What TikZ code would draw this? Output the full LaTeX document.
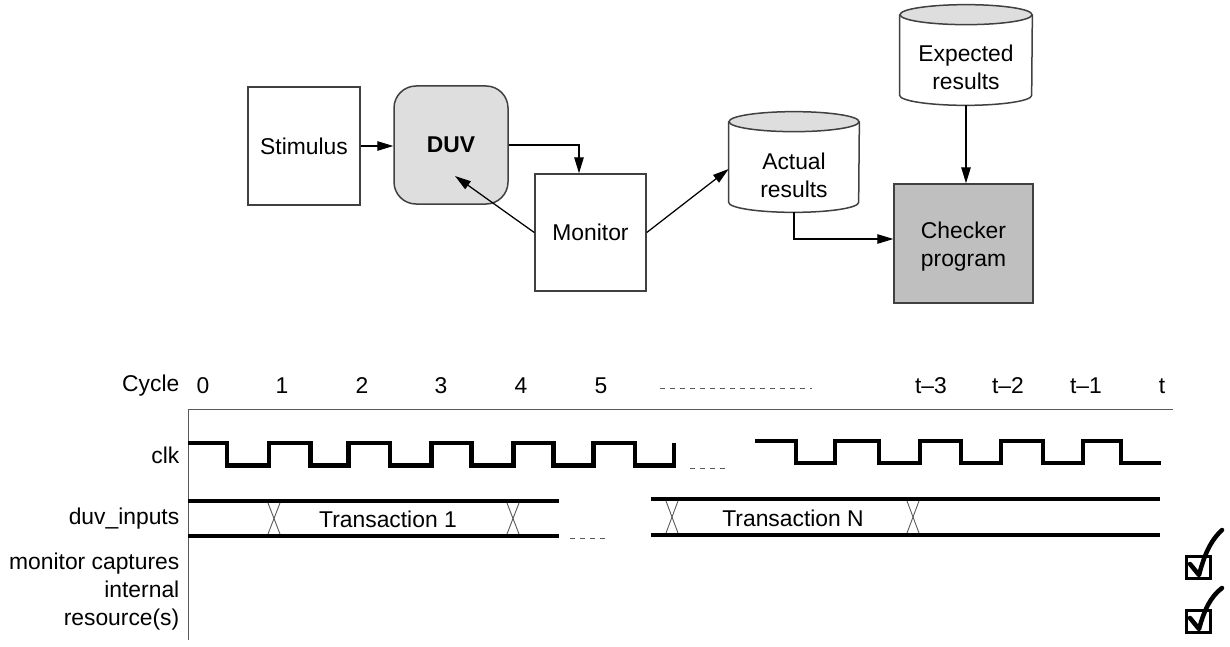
\documentclass[tikz,border=0pt]{standalone}
\usepackage{fontspec}
\setmainfont{Liberation Sans}
\usetikzlibrary{arrows.meta, calc}

\begin{document}
\begin{tikzpicture}[
    font=\fontsize{13pt}{15.9pt}\selectfont,
    box/.style={draw=boxgray, line width=0.3mm, inner sep=0pt, align=center},
    cyl/.style={draw=boxgray, line width=0.3mm},
    arrow/.style={line width=0.25mm, -{Triangle[length=0.32cm, width=0.19cm]}},
    wave/.style={line width=0.09cm},
    thinline/.style={line width=0.2mm, draw=axisgray},
    dots/.style={line width=0.2mm, draw=axisgray, dash pattern=on 0.1cm off 0.1cm},
    cross/.style={line width=0.18mm, draw=axisgray},
    tick/.style={line width=0.09cm, line cap=round, line join=round}
]
    \definecolor{boxgray}{rgb}{0.25,0.25,0.25}
    \definecolor{duvfill}{rgb}{0.87,0.87,0.87}
    \definecolor{checkfill}{rgb}{0.75,0.75,0.75}
    \definecolor{axisgray}{rgb}{0.35,0.35,0.35}
    \useasboundingbox (0,0) rectangle (24.60,12.92);
    % Block diagram
    \node[box, minimum width=2.24cm, minimum height=2.36cm] (stim) at (6.08, 10.00) {Stimulus};
    \node[box, rounded corners=0.44cm, fill=duvfill, minimum width=2.28cm, minimum height=2.36cm] (duv) at (9.02, 10.02) {\bfseries DUV};
    \node[box, minimum width=2.22cm, minimum height=2.34cm] (mon) at (11.81, 8.27) {Monitor};
    \node[box, fill=checkfill, minimum width=2.78cm, minimum height=2.38cm] (chk) at (19.27, 8.05) {};
    \node[align=center] (chktxt) at ($(chk)+(0,-0.06)$) {Checker\\program};
    % Actual results store
    \node[inner sep=0pt, minimum width=2.60cm, minimum height=2.00cm] (act) at (15.88, 9.68) {};
    \draw[cyl, fill=white] ($(act.north west)+(0,-0.2)$) -- ($(act.south west)+(0,0.2)$)
        arc[start angle=180, end angle=360, x radius=1.30cm, y radius=0.20cm] -- ($(act.north east)+(0,-0.2)$);
    \draw[cyl, fill=duvfill] ($(act.north)+(0,-0.2)$) ellipse[x radius=1.30cm, y radius=0.20cm];
    \node[align=center] (acttxt) at ($(act)+(0,-0.26)$) {Actual\\results};
    % Expected results store
    \node[inner sep=0pt, minimum width=2.64cm, minimum height=2.00cm] (exp) at (19.32, 11.82) {};
    \draw[cyl, fill=white] ($(exp.north west)+(0,-0.2)$) -- ($(exp.south west)+(0,0.2)$)
        arc[start angle=180, end angle=360, x radius=1.32cm, y radius=0.20cm] -- ($(exp.north east)+(0,-0.2)$);
    \draw[cyl, fill=duvfill] ($(exp.north)+(0,-0.2)$) ellipse[x radius=1.32cm, y radius=0.20cm];
    \node[align=center] (exptxt) at ($(exp)+(0,-0.24)$) {Expected\\results};
    % Connections
    \draw[arrow] (stim.east) -- (stim.east -| duv.west);
    \draw[arrow] (duv.east) -| ($(mon.north)+(-0.23,0)$);
    \draw[arrow] (mon.west) -- ($(duv.center)+(0.08,-0.62)$);
    \draw[arrow] (mon.east) -- ($(act.west)+(0,-0.14)$);
    \draw[arrow] (act.south) |- ($(chk.west)+(0,0.09)$);
    \draw[arrow] (exp.south) -- (exp.south |- chk.north);
    % Timing diagram axes
    \draw[thinline] (3.76, 4.74) -- (23.46, 4.74);
    \draw[thinline] (3.76, 4.74) -- (3.76, 0.12);
    \node[anchor=east] (cyclelbl) at (3.71, 5.20) {Cycle};
    \node (c0) at (4.06, 5.20) {0};
    \node (c1) at (5.64, 5.20) {1};
    \node (c2) at (7.24, 5.20) {2};
    \node (c3) at (8.82, 5.20) {3};
    \node (c4) at (10.42, 5.20) {4};
    \node (c5) at (12.02, 5.20) {5};
    \draw[dots] (13.20, 5.16) -- (16.24, 5.16);
    \node (ct3) at (18.62, 5.20) {t–3};
    \node (ct2) at (20.16, 5.20) {t–2};
    \node (ct1) at (21.72, 5.20) {t–1};
    \node (ct) at (23.24, 5.20) {t};
    % Signal names
    \node[anchor=east] (clklbl) at (3.71, 3.82) {clk};
    \node[anchor=east] (duvlbl) at (3.71, 2.54) {duv\_inputs};
    \node[anchor=east, align=right] (monlbl) at (3.71, 1.08) {monitor captures\\internal\\resource(s)};
    % Clock
    \draw[wave] (3.76, 4.06) -- (4.54, 4.06) -- (4.54, 3.61) -- (5.38, 3.61) -- (5.38, 4.06) -- (6.21, 4.06)
        -- (6.21, 3.61) -- (6.97, 3.61) -- (6.97, 4.06) -- (7.80, 4.06) -- (7.80, 3.61) -- (8.63, 3.61)
        -- (8.63, 4.06) -- (9.43, 4.06) -- (9.43, 3.61) -- (10.27, 3.61) -- (10.27, 4.06) -- (11.07, 4.06)
        -- (11.07, 3.61) -- (11.87, 3.61) -- (11.87, 4.06) -- (12.70, 4.06) -- (12.70, 3.61) -- (13.48, 3.61)
        -- (13.48, 4.06);
    \draw[dots] (13.80, 3.56) -- (14.54, 3.56);
    \draw[wave] (15.10, 4.10) -- (15.92, 4.10) -- (15.92, 3.66) -- (16.70, 3.66) -- (16.70, 4.10) -- (17.58, 4.10)
        -- (17.58, 3.66) -- (18.40, 3.66) -- (18.40, 4.10) -- (19.22, 4.10) -- (19.22, 3.66) -- (20.02, 3.66)
        -- (20.02, 4.10) -- (20.86, 4.10) -- (20.86, 3.66) -- (21.66, 3.66) -- (21.66, 4.10) -- (22.42, 4.10)
        -- (22.42, 3.66) -- (23.22, 3.66);
    % Inputs bus
    \draw[wave] (3.76, 2.90) -- (11.18, 2.90);
    \draw[wave] (3.76, 2.20) -- (11.18, 2.20);
    \draw[cross] (5.36, 2.86) -- (5.60, 2.24);
    \draw[cross] (5.60, 2.86) -- (5.36, 2.24);
    \draw[cross] (10.14, 2.86) -- (10.38, 2.24);
    \draw[cross] (10.38, 2.86) -- (10.14, 2.24);
    \node (tr1) at (7.76, 2.54) {Transaction 1};
    \draw[dots] (11.40, 2.16) -- (12.16, 2.16);
    \draw[wave] (13.02, 2.94) -- (23.20, 2.94);
    \draw[wave] (13.02, 2.22) -- (23.20, 2.22);
    \draw[cross] (13.32, 2.90) -- (13.56, 2.26);
    \draw[cross] (13.56, 2.90) -- (13.32, 2.26);
    \draw[cross] (18.14, 2.90) -- (18.38, 2.26);
    \draw[cross] (18.38, 2.90) -- (18.14, 2.26);
    \node (trn) at (15.86, 2.56) {Transaction N};
    % Check boxes
    \draw[line width=0.06cm] (23.72, 1.36) rectangle (24.20, 1.80);
    \draw[tick] (23.80, 1.64) -- (23.98, 1.42) .. controls (24.08, 1.80) and (24.20, 2.10) .. (24.44, 2.32);
    \draw[line width=0.06cm] (23.72, 0.28) rectangle (24.20, 0.72);
    \draw[tick] (23.80, 0.56) -- (23.98, 0.34) .. controls (24.08, 0.70) and (24.20, 0.98) .. (24.44, 1.16);
\end{tikzpicture}
\end{document}
